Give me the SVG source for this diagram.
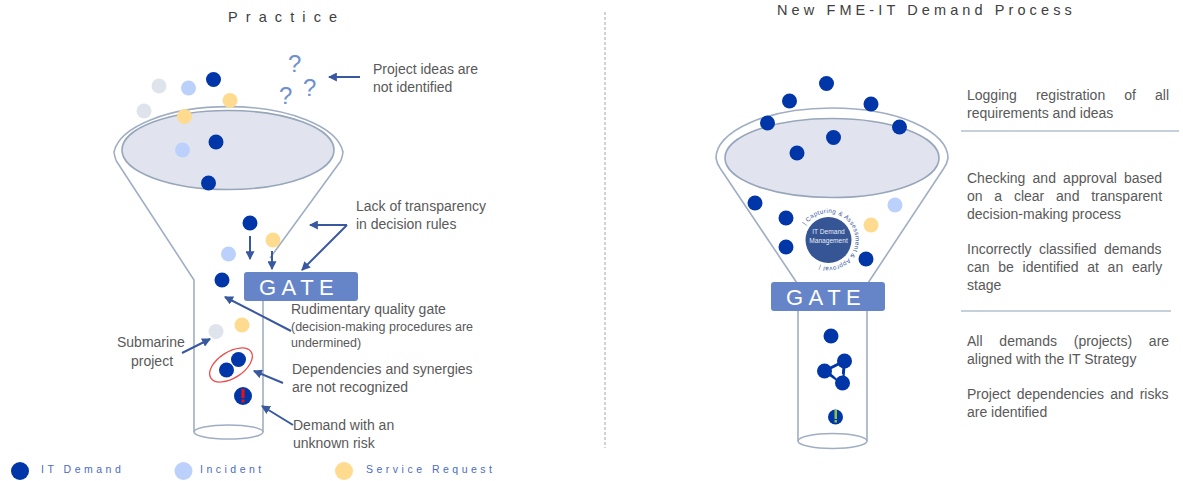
<svg xmlns="http://www.w3.org/2000/svg" width="1183" height="481" viewBox="0 0 1183 481">
<style>
text{font-family:"Liberation Sans",Arial,sans-serif;fill:#595959;font-size:14px}
.title{font-size:14.5px;fill:#404040}
.gate{font-size:22px;fill:#fff;letter-spacing:5.5px}
.small{font-size:12.500px}
.leg{font-size:10.500px;fill:#4a6cc0}
.fl{fill:none;stroke:#a0aec4;stroke-width:1.6}
.in{fill:#e1e4ef;stroke:#98a6bb;stroke-width:1.6}
.d{fill:#0036a8}.i{fill:#bbd0fb}.s{fill:#fedb8f}.g{fill:#dfe3ec}
.gb{fill:#6685c9}
.a{fill:none;stroke:#38589f;stroke-width:2;marker-end:url(#ah)}
.q{font-size:24px;fill:#6f8fcf}
</style>
<defs>
<marker id="ah" markerWidth="9" markerHeight="9" refX="7" refY="4" orient="auto" markerUnits="userSpaceOnUse" viewBox="0 0 8 8"><path d="M0 0L8 4L0 8z" fill="#38589f"/></marker>
<path id="ring" d="M805.600 225.500A27 27 0 1 1 804.500 252.500"/>
</defs>
<rect width="1183" height="481" fill="#fff"/>
<line x1="605" y1="12" x2="605" y2="448" stroke="#a6a6a6" stroke-dasharray="3 2"/>
<text class="title" x="228" y="22" letter-spacing="8.1">Practice</text>
<text class="title" x="777" y="15" letter-spacing="4.1">New FME-IT Demand Process</text>

<g id="funnel-left">
<path class="fl" d="M270 258L340 162Q342 159 343 152A115 50 0 0 0 114 152Q115 159 117 162L194 280V432M263 300V432"/>
<ellipse class="in" cx="228" cy="150" rx="106" ry="39.500"/>
<ellipse class="fl" cx="228.500" cy="432" rx="34.500" ry="7"/>
</g>
<g id="gate-left"><rect class="gb" x="244" y="272" width="114" height="29" rx="3"/><text class="gate" x="259" y="295">GATE</text></g>

<g id="funnel-right">
<path class="fl" d="M797 283L720 168Q717 164 716 158A116 50 0 0 1 948 158Q947 164 944 168L868 283M798 311V441M867 311V441"/>
<ellipse class="in" cx="832" cy="158" rx="107" ry="39.500"/>
<ellipse class="fl" cx="832.500" cy="441" rx="34.500" ry="7.500"/>
</g>
<g id="gate-right"><rect class="gb" x="771" y="282" width="114" height="29" rx="3"/><text class="gate" x="786" y="305">GATE</text></g>

<g id="dots-left">
<circle class="g" cx="159" cy="86" r="7.500"/><circle class="i" cx="188.500" cy="88" r="7.500"/><circle class="d" cx="213.500" cy="79.500" r="7.500"/>
<circle class="g" cx="144" cy="111" r="7.500"/><circle class="s" cx="230" cy="100.500" r="7.500"/><circle class="s" cx="184.500" cy="116.500" r="7.500"/>
<circle class="d" cx="216" cy="142" r="7.500"/><circle class="i" cx="182.500" cy="150" r="7.500"/><circle class="d" cx="208.500" cy="183" r="7.500"/>
<circle class="d" cx="250" cy="223" r="7.500"/><circle class="s" cx="273" cy="240" r="7.500"/><circle class="i" cx="228.500" cy="254" r="7.500"/>
<circle class="d" cx="222" cy="280" r="7.500"/><circle class="g" cx="216" cy="331.500" r="7.500"/><circle class="s" cx="242" cy="325" r="7.500"/>
<circle class="d" cx="238.500" cy="359.500" r="7.500"/><circle class="d" cx="226.500" cy="370" r="7.500"/>
<ellipse cx="231" cy="365" rx="24" ry="13" transform="rotate(-33 231 365)" fill="none" stroke="#ef4b4b" stroke-width="1.300"/>
<circle class="d" cx="243" cy="396" r="9"/><rect x="241.500" y="389" width="3" height="9" fill="#f01010"/><rect x="241.500" y="399.500" width="3" height="3" fill="#f01010"/>
</g>
<g id="questions"><text class="q" x="288" y="72">?</text><text class="q" x="279" y="104">?</text><text class="q" x="303" y="96">?</text></g>

<g id="connectors">
<line class="a" x1="360" y1="77" x2="329" y2="77"/>
<line class="a" x1="250" y1="236" x2="250" y2="259"/>
<line class="a" x1="272" y1="251" x2="272" y2="269"/>
<polyline class="a" points="347,225 310,225"/>
<line class="a" x1="347" y1="225" x2="302" y2="270"/>
<line class="a" x1="291" y1="331" x2="225" y2="297"/>
<line class="a" x1="182" y1="353" x2="210" y2="339"/>
<line class="a" x1="283" y1="383" x2="254" y2="371"/>
<line class="a" x1="293" y1="425" x2="262" y2="406"/>
</g>

<g id="dots-right">
<circle class="d" cx="826.500" cy="83.500" r="7.500"/><circle class="d" cx="789.500" cy="101" r="7.500"/><circle class="d" cx="871" cy="104" r="7.500"/>
<circle class="d" cx="767.500" cy="123" r="7.500"/><circle class="d" cx="899.500" cy="127" r="7.500"/><circle class="d" cx="833.500" cy="137.500" r="7.500"/><circle class="d" cx="797" cy="153" r="7.500"/>
<circle class="d" cx="755" cy="203" r="7.500"/><circle class="i" cx="895" cy="205" r="7.500"/><circle class="d" cx="786" cy="218" r="7.500"/><circle class="s" cx="871" cy="225" r="7.500"/>
<circle class="d" cx="786" cy="247" r="7.500"/><circle class="d" cx="866" cy="259" r="7.500"/>
<circle class="d" cx="831" cy="336" r="7.500"/>
<path d="M824.500 371L844.500 361L842.500 383Z" fill="none" stroke="#0036a8" stroke-width="3"/>
<path d="M832 374L838 369L843 375L838 380Z" fill="#fff"/>
<circle class="d" cx="844.500" cy="361" r="7.500"/><circle class="d" cx="824.500" cy="371" r="7.500"/><circle class="d" cx="842.500" cy="383" r="7.500"/>
<circle class="d" cx="835.500" cy="417" r="7.500"/><rect x="834.500" y="410" width="2.500" height="9" fill="#8cc63f"/><rect x="834.500" y="420" width="2.500" height="2.500" fill="#8cc63f"/>
</g>
<g id="it-demand">
<circle cx="828.500" cy="240" r="23" fill="#355594"/>
<text x="828.500" y="234" text-anchor="middle" style="font-size:6.600px;fill:#e8ecf6">IT Demand</text>
<text x="828.500" y="243" text-anchor="middle" style="font-size:6.600px;fill:#e8ecf6">Management</text>
<text style="font-size:6.200px;fill:#38589f" letter-spacing="0.4"><textPath href="#ring" startOffset="0">| Capturing &amp; Assessment &amp; Approval |</textPath></text>
</g>

<g id="labels-left">
<text x="373" y="74">Project ideas are</text><text x="373" y="92">not identified</text>
<text x="356" y="211">Lack of transparency</text><text x="356" y="229">in decision rules</text>
<text x="291" y="314">Rudimentary quality gate</text>
<text class="small" x="291" y="331">(decision-making procedures are</text><text class="small" x="291" y="347">undermined)</text>
<text x="292" y="374">Dependencies and synergies</text><text x="292" y="392">are not recognized</text>
<text x="293" y="430">Demand with an</text><text x="293" y="448">unknown risk</text>
<text x="117" y="347">Submarine</text><text x="131" y="366">project</text>
</g>

<g id="labels-right">
<text x="967" y="100" word-spacing="15.2">Logging registration of all</text><text x="967" y="118">requirements and ideas</text>
<line x1="961" y1="131" x2="1179" y2="131" stroke="#c5d0dc" stroke-width="2"/>
<text x="967" y="183" word-spacing="3.3">Checking and approval based</text>
<text x="967" y="201" word-spacing="7.9">on a clear and transparent</text>
<text x="967" y="219">decision-making process</text>
<text x="967" y="254" word-spacing="3.5">Incorrectly classified demands</text>
<text x="967" y="272" word-spacing="4.8">can be identified at an early</text>
<text x="967" y="290">stage</text>
<line x1="961" y1="311" x2="1171" y2="311" stroke="#c5d0dc" stroke-width="2"/>
<text x="967" y="346" word-spacing="12.9">All demands (projects) are</text>
<text x="967" y="364">aligned with the IT Strategy</text>
<text x="967" y="399" word-spacing="2.3">Project dependencies and risks</text>
<text x="967" y="417">are identified</text>
</g>

<g id="legend">
<circle class="d" cx="20" cy="471" r="9"/><text class="leg" x="41" y="473" letter-spacing="3.500">IT Demand</text>
<circle class="i" cx="183.500" cy="471" r="9"/><text class="leg" x="200" y="473" letter-spacing="3.500">Incident</text>
<circle class="s" cx="344" cy="471" r="9"/><text class="leg" x="366" y="473" letter-spacing="3.500">Service Request</text>
</g>
</svg>
